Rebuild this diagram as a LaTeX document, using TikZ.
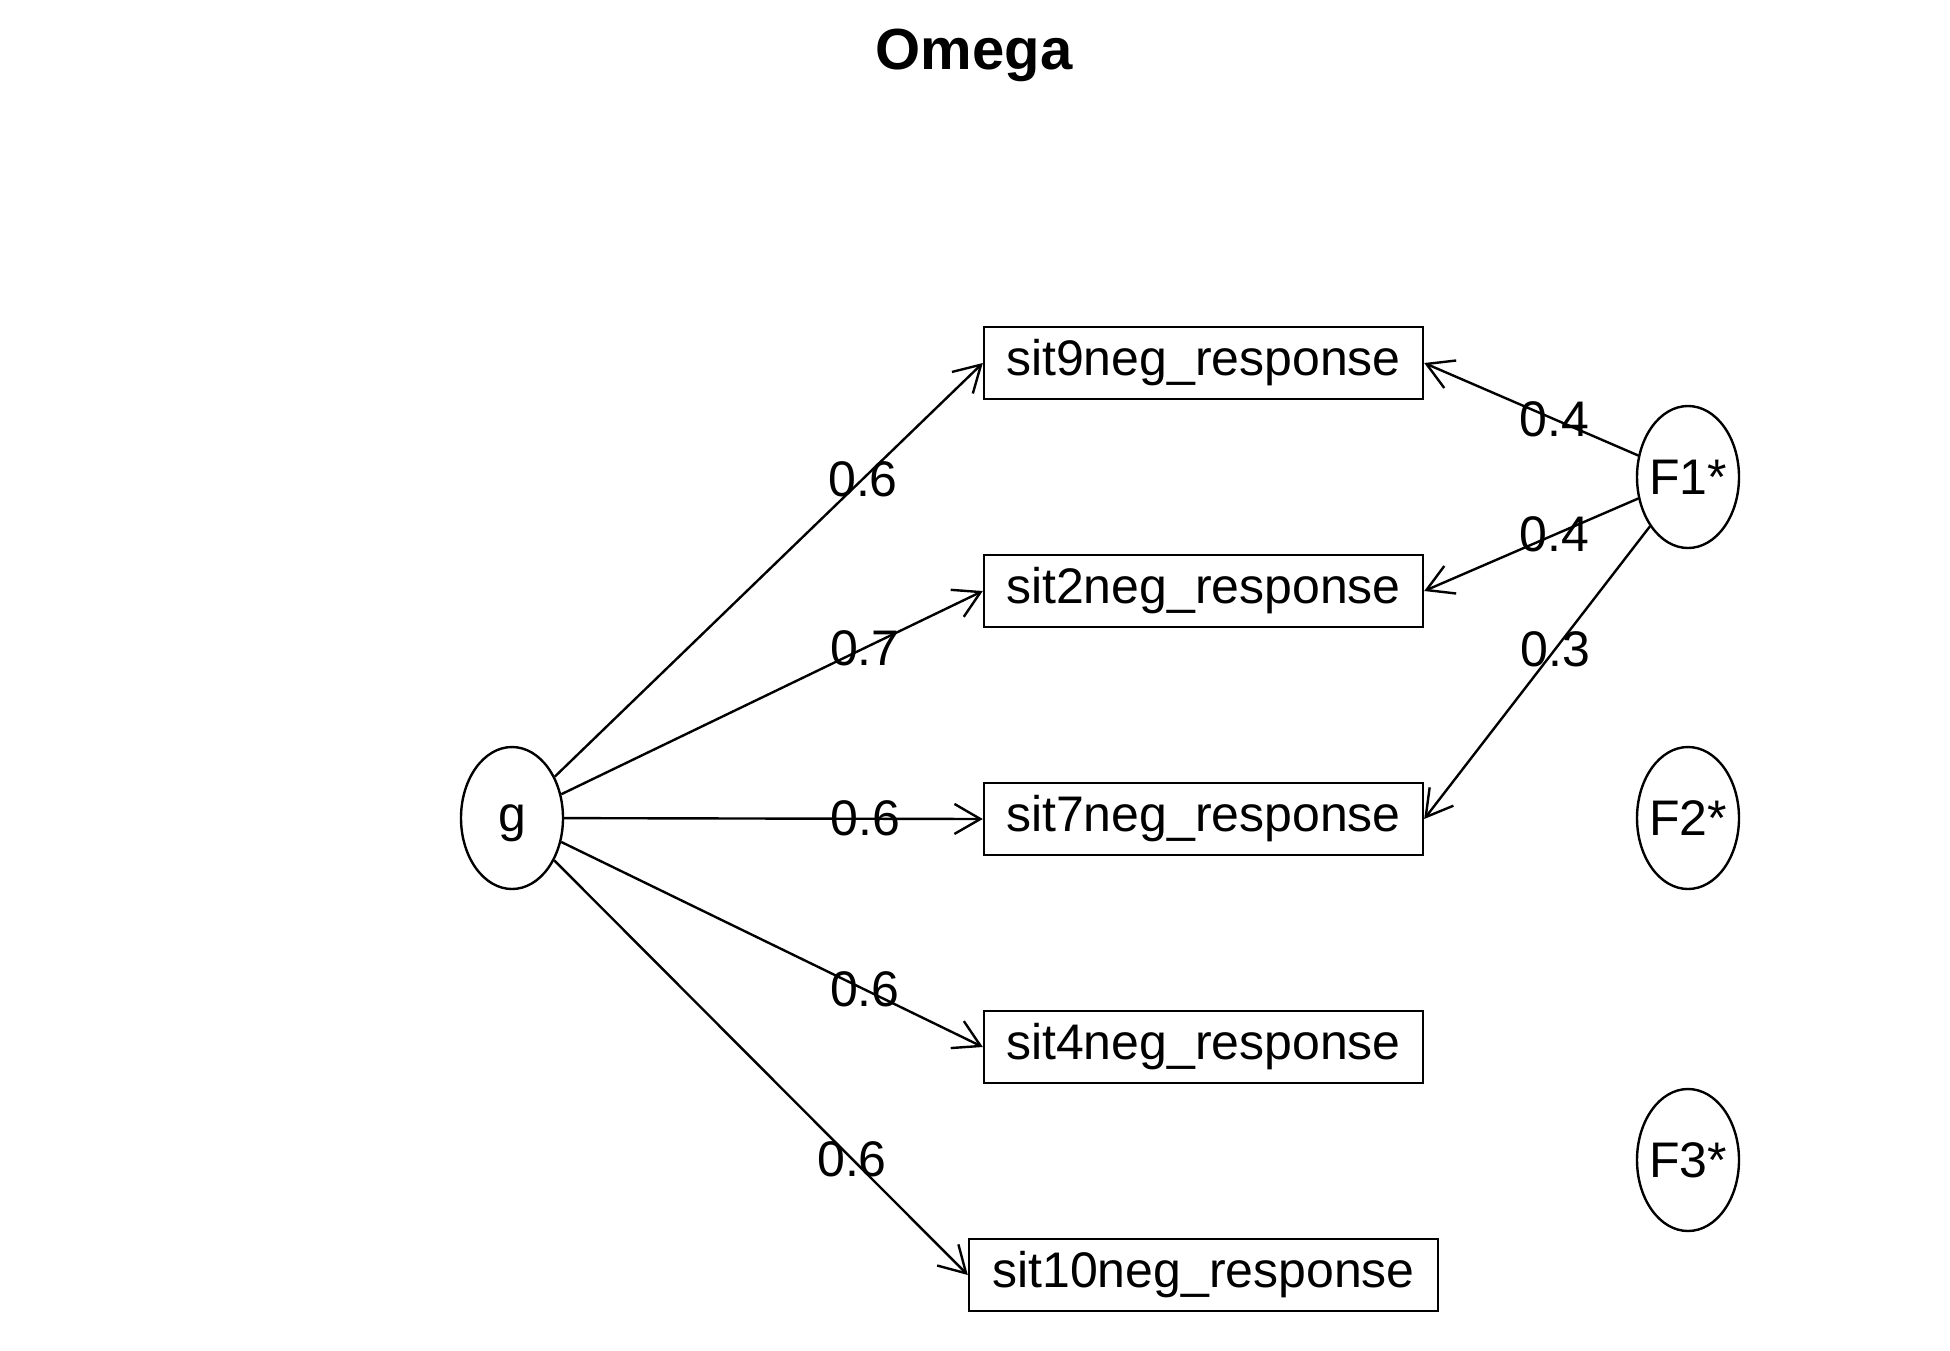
\documentclass[tikz,border=0pt]{standalone}
\usepackage{fontspec}
\setmainfont{Liberation Sans}
\usetikzlibrary{arrows.meta,shapes.geometric}
\begin{document}
\begin{tikzpicture}[x=0.5pt,y=-0.5pt,
  every node/.style={font=\fontsize{25}{30}\selectfont},
  item/.style={draw, line width=1.2pt, minimum width=219.5pt, minimum height=36pt, inner sep=0pt},
  factor/.style={draw, ellipse, line width=1.2pt, minimum width=51pt, minimum height=71pt, inner xsep=-4pt, inner ysep=0pt},
  load/.style={line width=1.2pt, -{Straight Barb[angle=60:15pt]}},
  lbl/.style={inner sep=0pt, anchor=center},
  title/.style={font=\fontsize{29}{34}\selectfont\bfseries, anchor=base}
]
\useasboundingbox (0,0) rectangle (1950,1350);

\node[title] (ttl) at (974,69) {Omega};

% observed items
\node[item] (s9)  at (1203.5,363)  {sit9neg\_response};
\node[item] (s2)  at (1203.5,591)  {sit2neg\_response};
\node[item] (s7)  at (1203.5,819)  {sit7neg\_response};
\node[item] (s4)  at (1203.5,1047) {sit4neg\_response};
\node[item, minimum width=234.5pt] (s10) at (1203.5,1275) {sit10neg\_response};

% general and group factors
\node[factor, text depth=0pt] (g)  at (512,818)  {g};
\node[factor] (f1) at (1688,477) {F1*};
\node[factor] (f2) at (1688,818) {F2*};
\node[factor] (f3) at (1688,1160) {F3*};

% general factor loadings
\draw[load] (g) -- node[lbl, pos=0.72] (lg9)  {0.6} (s9.west);
\draw[load] (g) -- node[lbl, pos=0.72] (lg2)  {0.7} (s2.west);
\draw[load] (g) -- node[lbl, pos=0.72] (lg7)  {0.6} (s7.west);
\draw[load] (g) -- node[lbl, pos=0.72] (lg4)  {0.6} (s4.west);
\draw[load] (g) -- node[lbl, pos=0.72] (lg10) {0.6} (s10.west);

% group factor loadings
\draw[load] (f1) -- node[lbl, pos=0.39] (lf9) {0.4} (s9.east);
\draw[load] (f1) -- node[lbl, pos=0.39] (lf2) {0.4} (s2.east);
\draw[load] (f1) -- node[lbl, pos=0.42] (lf7) {0.3} (s7.east);
\end{tikzpicture}
\end{document}
